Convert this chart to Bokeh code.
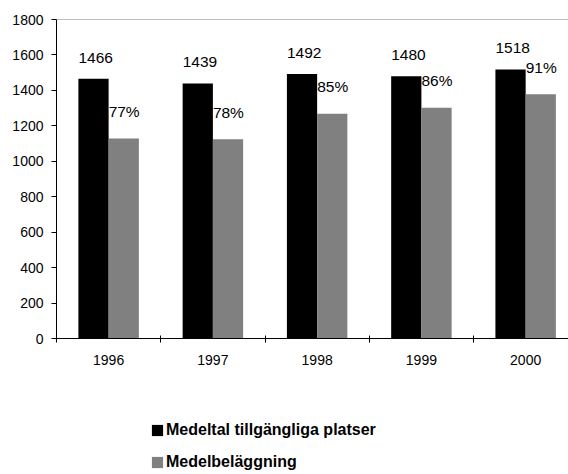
from bokeh.plotting import figure
from bokeh.layouts import column
from bokeh.models import (ColumnDataSource, FixedTicker, Span, Legend, LegendItem)
from bokeh.transform import dodge
from bokeh.core.properties import value
from bokeh.embed import file_html
from bokeh.resources import INLINE

years = ["1996", "1997", "1998", "1999", "2000"]
platser = [1466, 1439, 1492, 1480, 1518]
belaggning = [1128, 1124, 1268, 1302, 1378]
procent = ["77%", "78%", "85%", "86%", "91%"]
y_ticks = [0, 200, 400, 600, 800, 1000, 1200, 1400, 1600, 1800]
series_names = ["Medeltal tillgängliga platser", "Medelbeläggning"]
series_colors = ["black", "#808080"]

centers = [i + 0.5 for i in range(len(years))]
bounds = [float(i) for i in range(len(years))]

src = ColumnDataSource(dict(x=centers, platser=platser, bel=belaggning,
                            plab=[str(v) for v in platser], proc=procent))

FONT = "Liberation Sans"
BW = 0.29

p = figure(width=568, height=376, x_range=(0, 4.911), y_range=(0, 1800),
           output_backend="svg", toolbar_location=None,
           min_border_left=56, min_border_right=0, min_border_top=19,
           min_border_bottom=38)
p.background_fill_color = "white"
p.border_fill_color = "white"
p.outline_line_color = None
p.xgrid.visible = False
p.ygrid.visible = False

r1 = p.vbar(x=dodge("x", -BW / 2), top="platser", width=BW, source=src,
            fill_color=series_colors[0], line_color=None)
r2 = p.vbar(x=dodge("x", BW / 2), top="bel", width=BW, source=src,
            fill_color=series_colors[1], line_color=None)

p.text(x=dodge("x", -BW), y="platser", text="plab", source=src,
       text_align="left", text_baseline="alphabetic", y_offset=-21,
       text_font=value(FONT), text_font_size="15.5px", text_color="black")
p.text(x="x", y="bel", text="proc", source=src,
       text_align="left", text_baseline="alphabetic", y_offset=-27,
       text_font=value(FONT), text_font_size="15.5px", text_color="black")

p.add_layout(Span(location=1800, dimension="width", line_color="#808080",
                  line_width=1))

# y axis
ya = p.yaxis[0]
ya.ticker = FixedTicker(ticks=y_ticks)
ya.axis_line_color = "black"
ya.major_tick_line_color = "black"
ya.major_tick_out = 5
ya.major_tick_in = 0
ya.minor_tick_line_color = None
ya.major_label_text_font = FONT
ya.major_label_text_font_size = "14px"
ya.major_label_text_color = "black"
ya.major_label_standoff = 8

# x axis
xa = p.xaxis[0]
xa.ticker = FixedTicker(ticks=centers, minor_ticks=bounds)
xa.major_label_overrides = {c: y for c, y in zip(centers, years)}
xa.axis_line_color = "black"
xa.major_tick_line_color = None
xa.minor_tick_line_color = "black"
xa.minor_tick_in = 3
xa.minor_tick_out = 4
xa.major_label_text_font = FONT
xa.major_label_text_font_size = "14px"
xa.major_label_text_color = "black"
xa.major_label_standoff = 10

# legend panel
p2 = figure(width=568, height=98, x_range=(0, 1), y_range=(0, 1),
            output_backend="svg", toolbar_location=None,
            min_border=0)
p2.axis.visible = False
p2.grid.visible = False
p2.outline_line_color = None
lr = [p2.vbar(x=[5], top=[5], bottom=[4], width=0.1, fill_color=c,
              line_color=None)
      for c in series_colors]
legend = Legend(items=[LegendItem(label=n, renderers=[r])
                       for n, r in zip(series_names, lr)],
                location=(94, 3), orientation="vertical",
                glyph_width=14, glyph_height=14, label_height=14,
                label_standoff=2, spacing=14, padding=0, margin=0,
                border_line_color=None, background_fill_alpha=0,
                label_text_font=FONT, label_text_font_size="16px",
                label_text_font_style="bold", label_text_color="black")
p2.add_layout(legend, "center")

layout = column(p, p2, spacing=0)
open("out.html", "w").write(file_html(layout, INLINE))
